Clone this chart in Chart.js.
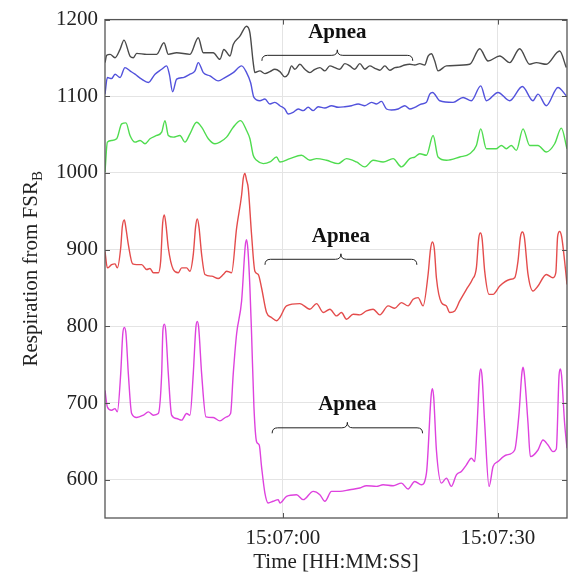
<!DOCTYPE html>
<html lang="en">
<head>
  <meta charset="UTF-8" />
  <title>Respiration from FSR B</title>
  <script src="https://cdn.jsdelivr.net/npm/chart.js"></script>
  <style>
    html, body { margin: 0; padding: 0; background: #fff; }
    #wrap { width: 573px; height: 575px; }
  </style>
</head>
<body>
  <div id="wrap"><canvas id="resp" width="573" height="575"></canvas></div>

  <script>
    // x = seconds after 15:06:00, y = respiration value
    const xTickValues = [60, 90];
    const xTickLabels = ["15:07:00", "15:07:30"];
    const yTickValues = [600, 700, 800, 900, 1000, 1100, 1200];

    const traceGray = [
      [35.17, 1143.9], [35.41, 1153.4], [35.88, 1154.7], [36.57, 1150.3], [37.27, 1161.1], [37.82, 1173.2],
      [38.66, 1152.5], [39.13, 1150.3], [39.59, 1156.0], [40.99, 1154.7], [42.38, 1154.7], [43.40, 1169.8],
      [44.01, 1154.7], [45.17, 1156.8], [47.03, 1154.7], [48.19, 1176.3], [48.89, 1156.8], [50.28, 1156.8],
      [51.21, 1148.2], [51.77, 1161.1], [52.61, 1152.5], [53.07, 1167.6], [54.00, 1178.4], [54.93, 1191.4],
      [55.40, 1182.7], [55.86, 1143.9], [56.09, 1130.9], [56.79, 1133.1], [57.49, 1129.6], [58.19, 1132.2],
      [58.88, 1135.2], [59.58, 1132.2], [60.28, 1125.3], [60.74, 1128.8], [61.21, 1139.6], [61.67, 1135.2],
      [62.37, 1141.7], [63.07, 1135.2], [63.77, 1130.9], [64.46, 1135.2], [65.16, 1137.4], [65.86, 1133.1],
      [66.56, 1139.6], [67.25, 1137.4], [67.95, 1135.2], [68.65, 1142.6], [69.34, 1139.6], [70.04, 1135.2],
      [70.74, 1142.6], [71.44, 1135.2], [72.13, 1139.6], [72.83, 1136.5], [73.53, 1134.0], [74.23, 1139.6],
      [74.92, 1134.0], [75.62, 1137.4], [76.32, 1138.3], [77.02, 1140.8], [77.71, 1141.7], [78.41, 1140.8],
      [79.11, 1142.6], [79.80, 1140.8], [80.27, 1152.5], [80.73, 1155.5], [81.20, 1146.0], [81.66, 1133.1],
      [82.83, 1139.6], [86.08, 1141.7], [87.48, 1162.0], [88.64, 1146.0], [90.27, 1152.5], [91.66, 1143.9],
      [93.05, 1162.0], [94.45, 1141.7], [95.38, 1143.9], [96.77, 1141.7], [98.63, 1159.0], [99.56, 1137.4]
    ];

    const traceBlue = [
      [35.17, 1102.8], [35.50, 1124.4], [36.10, 1123.1], [36.57, 1128.8], [37.27, 1124.4], [37.96, 1137.4],
      [38.66, 1133.1], [39.36, 1128.8], [40.29, 1122.3], [41.22, 1118.0], [42.15, 1128.8], [43.08, 1135.2],
      [43.77, 1139.6], [44.15, 1128.8], [44.61, 1105.9], [45.17, 1122.3], [46.10, 1124.4], [47.03, 1128.8],
      [47.73, 1133.1], [48.19, 1143.9], [48.89, 1130.9], [49.82, 1126.6], [50.98, 1120.1], [51.91, 1124.4],
      [53.07, 1130.9], [54.24, 1139.6], [54.93, 1130.9], [55.49, 1118.0], [55.96, 1098.5], [56.79, 1094.2],
      [57.49, 1096.4], [58.19, 1089.9], [58.88, 1092.1], [59.58, 1087.7], [60.28, 1083.4], [60.74, 1076.9],
      [61.44, 1079.1], [62.14, 1083.4], [62.84, 1081.3], [63.53, 1085.6], [64.23, 1081.3], [64.93, 1086.4],
      [65.86, 1084.7], [66.79, 1087.7], [67.72, 1085.6], [68.65, 1086.4], [69.58, 1087.7], [70.51, 1089.9],
      [71.44, 1087.7], [72.37, 1092.1], [73.06, 1089.9], [73.76, 1093.3], [74.46, 1083.4], [75.16, 1082.1],
      [76.09, 1083.4], [77.02, 1087.7], [77.71, 1083.4], [78.41, 1085.6], [79.34, 1089.9], [80.04, 1092.1],
      [80.50, 1102.8], [80.90, 1105.0], [81.90, 1094.2], [83.76, 1092.1], [85.15, 1098.5], [86.31, 1094.2],
      [87.62, 1113.6], [88.41, 1094.2], [90.03, 1105.0], [91.66, 1094.2], [93.43, 1112.8], [94.91, 1094.2],
      [95.61, 1102.8], [96.77, 1087.7], [98.40, 1111.5], [99.56, 1100.7]
    ];

    const traceGreen = [
      [35.17, 1001.4], [35.50, 1040.2], [36.10, 1042.4], [36.80, 1044.6], [37.50, 1064.0], [38.10, 1065.3],
      [38.66, 1048.9], [39.36, 1040.2], [40.06, 1042.4], [40.75, 1038.1], [41.45, 1044.6], [42.38, 1048.9],
      [43.08, 1053.2], [43.54, 1068.3], [44.01, 1048.9], [44.70, 1046.7], [45.63, 1048.9], [46.33, 1040.2],
      [47.03, 1051.0], [47.96, 1066.1], [48.66, 1059.7], [49.59, 1044.6], [50.52, 1038.1], [51.21, 1040.2],
      [52.14, 1046.7], [53.07, 1059.7], [54.10, 1068.3], [54.93, 1055.4], [55.40, 1044.6], [55.86, 1023.0],
      [56.33, 1016.5], [57.26, 1012.2], [58.19, 1014.3], [59.12, 1020.8], [59.58, 1014.3], [60.98, 1018.7],
      [62.60, 1023.0], [63.77, 1016.5], [64.70, 1018.7], [66.09, 1016.5], [67.72, 1012.2], [68.88, 1018.7],
      [70.27, 1014.3], [71.44, 1007.9], [72.60, 1016.5], [73.99, 1014.3], [75.39, 1018.7], [76.55, 1007.9],
      [77.71, 1018.7], [78.41, 1020.8], [79.11, 1025.1], [80.04, 1023.0], [80.97, 1048.9], [81.66, 1020.8],
      [82.83, 1016.5], [84.69, 1020.8], [86.08, 1025.1], [87.01, 1035.9], [87.62, 1057.5], [88.41, 1031.6],
      [89.80, 1031.6], [90.50, 1035.9], [91.19, 1031.6], [91.89, 1035.9], [92.59, 1029.4], [93.52, 1057.5],
      [94.45, 1035.9], [95.61, 1035.9], [96.77, 1027.3], [97.94, 1038.1], [98.87, 1058.4], [99.66, 1031.6]
    ];

    const traceRed = [
      [35.17, 897.8], [35.50, 876.2], [36.10, 880.5], [36.57, 881.4], [36.89, 876.2], [37.36, 902.1],
      [37.59, 930.2], [37.87, 938.8], [38.06, 930.0], [38.43, 906.5], [39.03, 881.4], [39.59, 880.5],
      [40.29, 880.5], [40.99, 874.1], [41.45, 875.4], [41.92, 869.8], [42.61, 869.8], [42.94, 884.9],
      [43.22, 934.5], [43.45, 945.3], [43.68, 932.4], [44.01, 902.1], [44.70, 874.1], [45.40, 869.8],
      [45.87, 876.2], [46.56, 876.2], [47.03, 871.9], [47.49, 893.5], [47.82, 930.0], [48.05, 940.1],
      [48.28, 930.0], [48.66, 893.5], [49.12, 867.6], [50.05, 865.4], [50.98, 862.4], [51.68, 867.6],
      [52.14, 871.9], [52.84, 869.8], [53.54, 928.0], [54.24, 971.2], [54.47, 992.8], [54.70, 999.3],
      [54.93, 990.6], [55.17, 979.9], [55.63, 919.4], [56.09, 871.9], [56.56, 867.6], [57.02, 850.3],
      [57.72, 818.0], [58.42, 811.5], [59.12, 807.2], [59.58, 811.5], [60.51, 826.6], [62.37, 829.6],
      [63.77, 822.3], [64.70, 829.6], [65.63, 818.0], [66.56, 822.3], [67.49, 813.6], [68.18, 818.0],
      [68.88, 809.3], [69.81, 815.8], [70.74, 814.9], [71.67, 820.1], [72.60, 822.3], [73.53, 814.9],
      [74.69, 826.6], [75.62, 823.6], [76.55, 830.9], [77.48, 826.6], [78.18, 835.2], [78.87, 837.4],
      [79.57, 826.6], [80.27, 867.6], [80.60, 900.0], [80.87, 909.9], [81.15, 900.0], [81.43, 863.3],
      [82.13, 830.9], [82.83, 826.6], [83.29, 818.0], [83.99, 820.1], [84.69, 833.1], [85.62, 848.2],
      [86.45, 861.1], [87.01, 876.2], [87.34, 915.0], [87.57, 921.6], [87.80, 915.0], [88.17, 871.9],
      [88.78, 841.7], [89.34, 841.7], [90.27, 852.5], [91.66, 861.1], [92.36, 863.3], [92.82, 884.9],
      [93.15, 916.0], [93.43, 922.9], [93.71, 916.0], [94.22, 867.6], [94.91, 846.0], [95.61, 852.5],
      [96.77, 867.6], [97.70, 863.3], [98.10, 870.0], [98.35, 917.0], [98.63, 923.7], [98.91, 917.0],
      [99.33, 884.9], [99.66, 854.6]
    ];

    const traceMagenta = [
      [35.17, 716.4], [35.50, 694.8], [36.10, 690.5], [36.57, 692.7], [36.89, 688.4], [37.36, 738.0],
      [37.65, 790.0], [37.87, 798.5], [38.10, 790.0], [38.43, 738.0], [38.89, 686.2], [39.59, 681.0],
      [40.52, 684.1], [41.22, 688.4], [41.92, 684.1], [42.61, 686.2], [43.08, 738.0], [43.25, 794.0],
      [43.45, 802.8], [43.65, 794.0], [44.01, 738.0], [44.47, 684.1], [45.17, 679.7], [45.87, 677.6],
      [46.56, 686.2], [47.03, 684.1], [47.49, 738.0], [47.85, 798.0], [48.05, 806.3], [48.25, 798.0],
      [48.66, 738.0], [49.26, 681.9], [50.28, 681.0], [51.21, 676.7], [52.14, 681.9], [52.70, 686.2],
      [53.07, 738.0], [53.54, 790.0], [54.24, 833.1], [54.75, 905.0], [54.93, 912.9], [55.12, 900.0],
      [55.40, 850.0], [55.63, 790.0], [55.96, 694.8], [56.33, 649.5], [56.70, 645.2], [57.02, 617.1],
      [57.49, 582.6], [57.95, 569.6], [58.65, 571.8], [59.35, 573.9], [59.58, 569.6], [60.51, 578.3],
      [61.91, 580.4], [62.84, 573.9], [64.23, 584.7], [65.16, 580.4], [65.86, 571.8], [66.79, 584.7],
      [67.95, 584.7], [69.34, 586.9], [70.74, 589.1], [71.67, 592.1], [73.06, 591.2], [73.99, 593.4],
      [75.39, 592.1], [76.55, 595.5], [77.48, 587.8], [78.41, 597.7], [79.34, 593.4], [80.04, 608.5],
      [80.70, 710.0], [80.87, 718.6], [81.05, 708.0], [81.43, 638.7], [82.13, 595.5], [82.83, 602.0],
      [83.52, 591.2], [84.22, 606.3], [84.92, 610.7], [85.62, 619.3], [86.31, 627.9], [86.78, 623.6],
      [87.10, 668.9], [87.45, 735.0], [87.62, 744.5], [87.80, 735.0], [88.17, 673.3], [88.78, 591.2],
      [89.34, 617.1], [90.03, 623.6], [91.19, 632.2], [92.36, 638.7], [92.96, 686.2], [93.35, 738.0],
      [93.52, 746.7], [93.70, 738.0], [94.22, 673.3], [94.54, 630.1], [95.61, 638.7], [96.31, 651.7],
      [97.01, 645.2], [97.70, 636.6], [98.17, 640.0], [98.55, 736.0], [98.73, 744.5], [98.90, 736.0],
      [99.33, 673.3], [99.66, 640.9]
    ];

    // apnea braces: time span and the value of the brace line
    const apneaSpans = [
      { from: 57.07, to: 78.13, level: 1153.4, label: "Apnea" },
      { from: 57.50, to: 78.70, level: 887.4, label: "Apnea" },
      { from: 58.50, to: 79.50, level: 667.6, label: "Apnea" }
    ];

    const serif = "'Liberation Serif', 'Times New Roman', serif";

    function toPoints(pairs) {
      return pairs.map(p => ({ x: p[0], y: p[1] }));
    }

    function line(pairs, color) {
      return {
        data: toPoints(pairs),
        borderColor: color,
        borderWidth: 1.4,
        pointRadius: 0,
        cubicInterpolationMode: "monotone",
        fill: false
      };
    }

    function drawBrace(ctx, x0, x1, y, r) {
      const xc = (x0 + x1) / 2;
      ctx.beginPath();
      ctx.moveTo(x0, y + r);
      ctx.quadraticCurveTo(x0, y, x0 + r, y);
      ctx.lineTo(xc - r, y);
      ctx.quadraticCurveTo(xc, y, xc, y - r);
      ctx.quadraticCurveTo(xc, y, xc + r, y);
      ctx.lineTo(x1 - r, y);
      ctx.quadraticCurveTo(x1, y, x1, y + r);
      ctx.stroke();
    }

    const framePlugin = {
      id: "frame",
      afterDraw(chart) {
        const { ctx, chartArea: a, scales: { x, y } } = chart;
        ctx.save();

        // box around the plot with inward ticks
        ctx.strokeStyle = "#555";
        ctx.lineWidth = 1.3;
        ctx.strokeRect(a.left, a.top, a.right - a.left, a.bottom - a.top);
        ctx.lineWidth = 1;
        ctx.beginPath();
        yTickValues.forEach(v => {
          const py = Math.round(y.getPixelForValue(v)) + 0.5;
          ctx.moveTo(a.left, py); ctx.lineTo(a.left + 5, py);
          ctx.moveTo(a.right, py); ctx.lineTo(a.right - 5, py);
        });
        xTickValues.forEach(v => {
          const px = Math.round(x.getPixelForValue(v)) + 0.5;
          ctx.moveTo(px, a.bottom); ctx.lineTo(px, a.bottom - 5);
          ctx.moveTo(px, a.top); ctx.lineTo(px, a.top + 5);
        });
        ctx.stroke();

        // apnea braces
        ctx.strokeStyle = "#222";
        ctx.lineWidth = 1;
        ctx.fillStyle = "#111";
        ctx.font = "bold 21px " + serif;
        ctx.textAlign = "center";
        ctx.textBaseline = "middle";
        apneaSpans.forEach(s => {
          const x0 = x.getPixelForValue(s.from);
          const x1 = x.getPixelForValue(s.to);
          const py = y.getPixelForValue(s.level);
          drawBrace(ctx, x0, x1, py, 5.5);
          ctx.fillText(s.label, (x0 + x1) / 2, py - 23);
        });

        // axis titles
        ctx.fillStyle = "#222";
        ctx.font = "21px " + serif;
        ctx.fillText("Time [HH:MM:SS]", (a.left + a.right) / 2, 562);

        const main = "Respiration from FSR";
        const sub = "B";
        ctx.translate(30, (a.top + a.bottom) / 2);
        ctx.rotate(-Math.PI / 2);
        ctx.font = "21px " + serif;
        const wMain = ctx.measureText(main).width;
        ctx.font = "15px " + serif;
        const wSub = ctx.measureText(sub).width;
        const start = -(wMain + wSub) / 2;
        ctx.textAlign = "left";
        ctx.textBaseline = "alphabetic";
        ctx.font = "21px " + serif;
        ctx.fillText(main, start, 7);
        ctx.font = "15px " + serif;
        ctx.fillText(sub, start + wMain, 12);
        ctx.restore();
      }
    };

    new Chart(document.getElementById("resp"), {
      type: "line",
      data: {
        datasets: [
          line(traceGray, "#4a4a4a"),
          line(traceBlue, "#5252dc"),
          line(traceGreen, "#4fdc4f"),
          line(traceRed, "#e44c4c"),
          line(traceMagenta, "#de42de")
        ]
      },
      options: {
        responsive: false,
        animation: false,
        layout: { padding: { left: 0, top: 16, right: 6, bottom: 0 } },
        plugins: { legend: { display: false }, tooltip: { enabled: false } },
        scales: {
          x: {
            type: "linear",
            min: 35.17,
            max: 99.66,
            afterBuildTicks: s => { s.ticks = xTickValues.map(v => ({ value: v })); },
            afterFit: s => { s.height = 57; },
            grid: { color: "#e4e4e4", drawTicks: false },
            border: { display: false },
            ticks: {
              padding: 8,
              color: "#222",
              font: { family: serif, size: 21 },
              maxRotation: 0,
              callback: v => xTickLabels[xTickValues.indexOf(v)]
            }
          },
          y: {
            min: 550,
            max: 1200,
            afterBuildTicks: s => { s.ticks = yTickValues.map(v => ({ value: v })); },
            afterFit: s => { s.width = 105; },
            grid: { color: "#e4e4e4", drawTicks: false },
            border: { display: false },
            ticks: {
              padding: 7,
              color: "#222",
              font: { family: serif, size: 21 },
              callback: v => String(v)
            }
          }
        }
      },
      plugins: [framePlugin]
    });
  </script>
</body>
</html>
